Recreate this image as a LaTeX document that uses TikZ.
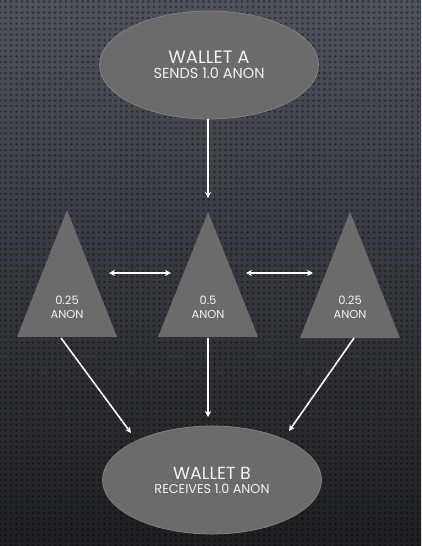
\documentclass[tikz,border=0pt]{standalone}
\usepackage{fontspec}
\setmainfont{Poppins}
\usetikzlibrary{shapes.geometric,patterns.meta,arrows.meta}
\definecolor{bgtop}{HTML}{4E525A}
\definecolor{bgbot}{HTML}{1E1F22}
\definecolor{shapegray}{HTML}{6B6B6B}
\definecolor{txt}{HTML}{F2F2F2}
\tikzdeclarepattern{name=bgdots, type=uncolored, bottom left={(-3pt,-3pt)}, top right={(3pt,3pt)}, tile size={(5.5pt,5.5pt)}, code={\fill (0pt,0pt) circle (1.4pt);}}
\tikzset{
  wallet/.style={ellipse, fill=shapegray, draw=shapegray!85!white, line width=0.8pt, minimum width=219pt, minimum height=108pt, text=txt, align=center, inner sep=0pt},
  tri/.style={fill=shapegray},
  trilabel/.style={text=txt, align=center, font=\fontsize{11.5}{14}\selectfont, inner sep=0pt},
  flow/.style={draw=white, line width=1.6pt, -{Stealth[length=6pt,width=6pt]}},
  biflow/.style={draw=white, line width=1.6pt, {Stealth[length=6pt,width=6pt]}-{Stealth[length=6pt,width=6pt]}},
}
\begin{document}
\begin{tikzpicture}[x=1pt,y=-1pt]
\useasboundingbox (0,0) rectangle (421,546);
\shade[top color=bgtop, bottom color=bgbot] (0,0) rectangle (421,546);
\fill[pattern=bgdots, pattern color=black, opacity=0.4] (0,0) rectangle (421,546);

\node[wallet] (A) at (209,65) {\fontsize{18}{21}\selectfont WALLET A\\[3pt]\fontsize{14.5}{17}\selectfont SENDS 1.0 ANON};
\node[wallet] (B) at (212,480) {\raisebox{0pt}{\fontsize{17.5}{21}\selectfont WALLET B}\\[2pt]\fontsize{12.8}{15}\selectfont RECEIVES 1.0 ANON};

\fill[tri] (67,210) -- (117,337) -- (17,337) -- cycle;
\fill[tri] (208,212) -- (258,337) -- (158,337) -- cycle;
\fill[tri] (350,212) -- (400,338) -- (300,338) -- cycle;

\node[trilabel] (t1) at (67,307) {0.25\\ANON};
\node[trilabel] (t2) at (208,307) {0.5\\ANON};
\node[trilabel] (t3) at (350,307) {0.25\\ANON};

\coordinate (a1) at (208,119);
\coordinate (a2) at (208,198);
\draw[flow] (a1) -- (a2);

\coordinate (l1) at (109,273);
\coordinate (l2) at (171,273);
\coordinate (r1) at (246,273);
\coordinate (r2) at (313,273);
\draw[biflow] (l1) -- (l2);
\draw[biflow] (r1) -- (r2);

\coordinate (b1s) at (61,338);
\coordinate (b1e) at (131,433);
\coordinate (b2s) at (208,338);
\coordinate (b2e) at (208,417);
\coordinate (b3s) at (354,338);
\coordinate (b3e) at (289,431);
\draw[flow] (b1s) -- (b1e);
\draw[flow] (b2s) -- (b2e);
\draw[flow] (b3s) -- (b3e);
\end{tikzpicture}
\end{document}
